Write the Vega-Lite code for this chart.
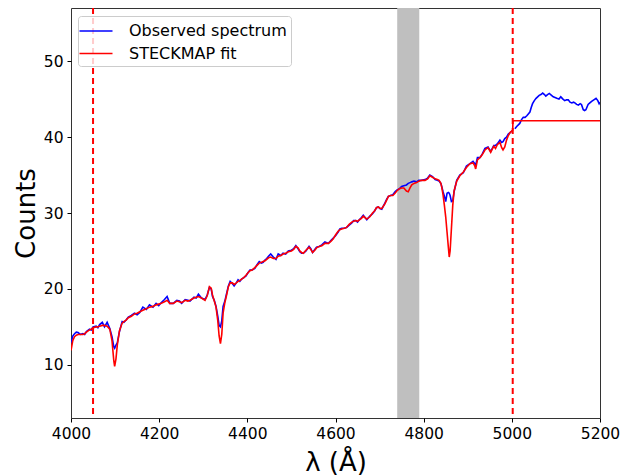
{
  "$schema": "https://vega.github.io/schema/vega-lite/v6.json",
  "width": 529,
  "height": 410,
  "autosize": {"type": "none"},
  "padding": {"left": 71, "top": 8, "right": 22, "bottom": 57},
  "config": {
    "font": "DejaVu Sans",
    "view": {"stroke": "#333", "strokeWidth": 1},
    "axis": {"grid": false, "domain": false, "tickColor": "#000", "labelColor": "#000", "titleColor": "#000", "tickSize": 4, "labelFontSize": 15.5, "titleFontSize": 26, "titleFontWeight": "normal", "labelFont": "DejaVu Sans", "titleFont": "DejaVu Sans", "format": "d"},
    "legend": {"labelFont": "DejaVu Sans"}
  },
  "data": {"values": [
    {"l":4000,"o":12.9,"f":11.9},{"l":4001,"o":13.1,"f":12.2},{"l":4004,"o":13.8,"f":13.2},{"l":4008,"o":14.1,"f":13.7},{"l":4012,"o":14.3,"f":13.9},{"l":4016,"o":14.25,"f":14.0},{"l":4021,"o":14.0,"f":14.0},{"l":4027,"o":14.1,"f":14.0},{"l":4031,"o":14.0,"f":14.1},{"l":4035,"o":14.4,"f":14.3},{"l":4042,"o":14.7,"f":14.6},{"l":4046,"o":14.6,"f":14.7},{"l":4050,"o":15.0,"f":14.9},{"l":4057,"o":15.1,"f":15.0},{"l":4061,"o":14.9,"f":15.0},{"l":4065,"o":15.3,"f":15.1},{"l":4071,"o":15.6,"f":15.2},{"l":4076,"o":15.0,"f":15.2},{"l":4082,"o":15.6,"f":15.1},{"l":4088,"o":14.8,"f":14.7},{"l":4093,"o":13.7,"f":13.2},{"l":4097,"o":12.4,"f":10.6},{"l":4099,"o":12.2,"f":9.8},{"l":4102,"o":12.6,"f":10.8},{"l":4105,"o":12.9,"f":12.6},{"l":4110,"o":14.4,"f":14.5},{"l":4116,"o":15.7,"f":15.5},{"l":4120,"o":15.6,"f":15.7},{"l":4125,"o":15.9,"f":15.9},{"l":4130,"o":16.3,"f":16.2},{"l":4137,"o":16.5,"f":16.4},{"l":4144,"o":16.8,"f":16.7},{"l":4150,"o":16.6,"f":16.8},{"l":4156,"o":16.9,"f":17.0},{"l":4163,"o":17.6,"f":17.2},{"l":4171,"o":17.3,"f":17.4},{"l":4178,"o":17.9,"f":17.6},{"l":4186,"o":17.6,"f":17.7},{"l":4193,"o":18.1,"f":17.9},{"l":4199,"o":17.8,"f":18.0},{"l":4205,"o":18.2,"f":18.1},{"l":4212,"o":18.6,"f":18.3},{"l":4218,"o":19.0,"f":18.5},{"l":4224,"o":18.1,"f":18.1},{"l":4232,"o":18.1,"f":18.1},{"l":4240,"o":18.5,"f":18.4},{"l":4246,"o":18.4,"f":18.3},{"l":4251,"o":18.1,"f":18.2},{"l":4259,"o":18.6,"f":18.5},{"l":4265,"o":18.5,"f":18.4},{"l":4270,"o":18.4,"f":18.5},{"l":4279,"o":18.9,"f":18.8},{"l":4284,"o":18.8,"f":18.9},{"l":4289,"o":19.3,"f":19.0},{"l":4296,"o":18.8,"f":18.8},{"l":4304,"o":18.6,"f":18.5},{"l":4309,"o":19.2,"f":19.1},{"l":4314,"o":20.2,"f":20.3},{"l":4318,"o":20.0,"f":20.1},{"l":4321,"o":19.0,"f":19.2},{"l":4325,"o":18.5,"f":18.4},{"l":4329,"o":17.7,"f":17.6},{"l":4333,"o":16.4,"f":15.8},{"l":4336,"o":15.2,"f":13.8},{"l":4339,"o":15.0,"f":12.8},{"l":4342,"o":15.8,"f":14.0},{"l":4345,"o":17.7,"f":16.8},{"l":4349,"o":18.4,"f":18.2},{"l":4353,"o":19.4,"f":19.2},{"l":4357,"o":20.4,"f":20.3},{"l":4361,"o":21.0,"f":20.8},{"l":4366,"o":20.7,"f":20.8},{"l":4370,"o":20.4,"f":20.6},{"l":4375,"o":20.8,"f":20.8},{"l":4379,"o":21.2,"f":21.0},{"l":4383,"o":21.0,"f":21.1},{"l":4387,"o":21.3,"f":21.3},{"l":4392,"o":21.5,"f":21.5},{"l":4397,"o":21.7,"f":21.8},{"l":4401,"o":22.1,"f":22.1},{"l":4406,"o":22.5,"f":22.4},{"l":4411,"o":22.5,"f":22.5},{"l":4417,"o":22.7,"f":22.8},{"l":4422,"o":23.2,"f":23.1},{"l":4427,"o":23.6,"f":23.4},{"l":4432,"o":23.4,"f":23.5},{"l":4436,"o":23.5,"f":23.6},{"l":4440,"o":23.8,"f":23.7},{"l":4444,"o":24.0,"f":23.9},{"l":4448,"o":24.3,"f":24.1},{"l":4453,"o":24.6,"f":24.2},{"l":4459,"o":24.2,"f":24.0},{"l":4465,"o":23.9,"f":24.0},{"l":4470,"o":24.6,"f":24.3},{"l":4476,"o":24.4,"f":24.4},{"l":4481,"o":24.7,"f":24.6},{"l":4487,"o":24.6,"f":24.7},{"l":4493,"o":25.0,"f":24.9},{"l":4500,"o":25.1,"f":25.0},{"l":4505,"o":25.3,"f":25.2},{"l":4510,"o":25.7,"f":25.6},{"l":4515,"o":25.3,"f":25.4},{"l":4519,"o":24.9,"f":25.0},{"l":4523,"o":24.7,"f":24.8},{"l":4527,"o":24.7,"f":24.7},{"l":4533,"o":25.0,"f":25.1},{"l":4540,"o":25.6,"f":25.5},{"l":4544,"o":25.3,"f":25.2},{"l":4548,"o":24.8,"f":24.8},{"l":4553,"o":25.2,"f":25.1},{"l":4557,"o":25.5,"f":25.4},{"l":4563,"o":25.6,"f":25.6},{"l":4569,"o":25.8,"f":25.7},{"l":4576,"o":26.2,"f":26.0},{"l":4580,"o":26.1,"f":26.0},{"l":4584,"o":26.0,"f":26.0},{"l":4590,"o":26.4,"f":26.3},{"l":4595,"o":26.7,"f":26.6},{"l":4600,"o":27.0,"f":27.1},{"l":4606,"o":27.5,"f":27.6},{"l":4610,"o":27.9,"f":27.8},{"l":4614,"o":28.0,"f":27.9},{"l":4620,"o":28.0,"f":28.0},{"l":4625,"o":28.1,"f":28.1},{"l":4631,"o":28.4,"f":28.5},{"l":4637,"o":28.7,"f":28.8},{"l":4641,"o":29.0,"f":28.9},{"l":4646,"o":29.0,"f":29.0},{"l":4650,"o":28.8,"f":28.9},{"l":4654,"o":29.1,"f":29.1},{"l":4659,"o":29.4,"f":29.3},{"l":4663,"o":29.7,"f":29.6},{"l":4667,"o":29.4,"f":29.4},{"l":4671,"o":29.1,"f":29.2},{"l":4678,"o":29.6,"f":29.5},{"l":4684,"o":29.9,"f":30.0},{"l":4689,"o":30.3,"f":30.3},{"l":4693,"o":30.7,"f":30.7},{"l":4697,"o":30.8,"f":30.8},{"l":4701,"o":30.6,"f":30.6},{"l":4705,"o":30.5,"f":30.6},{"l":4712,"o":31.3,"f":31.2},{"l":4716,"o":31.8,"f":31.7},{"l":4720,"o":32.2,"f":32.2},{"l":4725,"o":32.3,"f":32.3},{"l":4730,"o":32.4,"f":32.3},{"l":4735,"o":32.8,"f":32.6},{"l":4739,"o":33.0,"f":32.9},{"l":4745,"o":33.2,"f":33.2},{"l":4750,"o":33.5,"f":33.3},{"l":4755,"o":33.6,"f":33.3},{"l":4761,"o":33.7,"f":32.9},{"l":4765,"o":33.9,"f":32.8},{"l":4769,"o":34.0,"f":33.3},{"l":4773,"o":34.1,"f":33.7},{"l":4778,"o":34.2,"f":33.9},{"l":4784,"o":34.1,"f":34.0},{"l":4789,"o":34.3,"f":34.2},{"l":4795,"o":34.3,"f":34.3},{"l":4803,"o":34.4,"f":34.3},{"l":4809,"o":34.6,"f":34.5},{"l":4814,"o":35.0,"f":34.9},{"l":4820,"o":34.8,"f":34.7},{"l":4826,"o":34.4,"f":34.5},{"l":4831,"o":34.3,"f":34.4},{"l":4835,"o":34.2,"f":34.3},{"l":4839,"o":33.9,"f":33.9},{"l":4841,"o":33.5,"f":33.4},{"l":4844,"o":32.8,"f":32.4},{"l":4847,"o":32.2,"f":31.0},{"l":4850,"o":31.5,"f":29.5},{"l":4853,"o":32.6,"f":27.5},{"l":4856,"o":32.7,"f":25.5},{"l":4858,"o":32.6,"f":24.2},{"l":4860,"o":32.3,"f":25.0},{"l":4863,"o":31.5,"f":28.0},{"l":4866,"o":31.6,"f":31.0},{"l":4869,"o":32.8,"f":32.9},{"l":4875,"o":34.3,"f":34.2},{"l":4882,"o":35.0,"f":34.9},{"l":4890,"o":35.3,"f":35.4},{"l":4897,"o":36.2,"f":36.0},{"l":4905,"o":36.5,"f":36.5},{"l":4912,"o":36.8,"f":36.6},{"l":4916,"o":36.5,"f":36.2},{"l":4918,"o":36.3,"f":35.8},{"l":4922,"o":37.3,"f":37.0},{"l":4928,"o":37.3,"f":37.3},{"l":4933,"o":37.8,"f":37.7},{"l":4939,"o":38.5,"f":38.3},{"l":4946,"o":38.7,"f":38.6},{"l":4952,"o":38.1,"f":38.0},{"l":4959,"o":38.9,"f":38.8},{"l":4963,"o":38.9,"f":38.5},{"l":4967,"o":39.1,"f":39.0},{"l":4973,"o":39.6,"f":39.3},{"l":4977,"o":39.3,"f":38.6},{"l":4980,"o":39.4,"f":38.3},{"l":4984,"o":39.8,"f":38.7},{"l":4988,"o":40.0,"f":39.6},{"l":4992,"o":40.4,"f":40.2},{"l":4996,"o":40.6,"f":40.6},{"l":5002,"o":40.9,"f":40.9},{"l":5002.5,"f":42.15},{"l":5007,"o":41.1,"f":42.15},{"l":5011,"o":41.4,"f":42.15},{"l":5018,"o":41.8,"f":42.15},{"l":5022,"o":42.3,"f":42.15},{"l":5026,"o":42.6,"f":42.15},{"l":5030,"o":42.6,"f":42.15},{"l":5034,"o":42.8,"f":42.15},{"l":5041,"o":43.3,"f":42.15},{"l":5044,"o":43.9,"f":42.15},{"l":5047,"o":44.4,"f":42.15},{"l":5051,"o":44.8,"f":42.15},{"l":5055,"o":45.1,"f":42.15},{"l":5062,"o":45.5,"f":42.15},{"l":5066,"o":45.6,"f":42.15},{"l":5070,"o":45.8,"f":42.15},{"l":5074,"o":45.6,"f":42.15},{"l":5077,"o":45.4,"f":42.15},{"l":5081,"o":45.6,"f":42.15},{"l":5085,"o":45.75,"f":42.15},{"l":5090,"o":45.5,"f":42.15},{"l":5094,"o":45.3,"f":42.15},{"l":5098,"o":45.2,"f":42.15},{"l":5102,"o":45.1,"f":42.15},{"l":5107,"o":45.0,"f":42.15},{"l":5111,"o":45.3,"f":42.15},{"l":5116,"o":45.0,"f":42.15},{"l":5120,"o":44.8,"f":42.15},{"l":5124,"o":44.9,"f":42.15},{"l":5128,"o":44.9,"f":42.15},{"l":5132,"o":44.6,"f":42.15},{"l":5136,"o":44.5,"f":42.15},{"l":5140,"o":44.6,"f":42.15},{"l":5143,"o":44.5,"f":42.15},{"l":5147,"o":44.3,"f":42.15},{"l":5151,"o":44.2,"f":42.15},{"l":5155,"o":44.4,"f":42.15},{"l":5158,"o":44.3,"f":42.15},{"l":5162,"o":43.6,"f":42.15},{"l":5165,"o":43.5,"f":42.15},{"l":5168,"o":43.6,"f":42.15},{"l":5173,"o":44.3,"f":42.15},{"l":5177,"o":44.5,"f":42.15},{"l":5181,"o":44.7,"f":42.15},{"l":5186,"o":44.9,"f":42.15},{"l":5191,"o":45.1,"f":42.15},{"l":5195,"o":44.8,"f":42.15},{"l":5198,"o":44.4,"f":42.15},{"l":5200,"o":44.6,"f":42.15}
  ]},
  "layer": [
    {
      "data": {"values": [{"a": 4740, "b": 4790}]},
      "mark": {"type": "rect", "color": "#bfbfbf"},
      "encoding": {
        "x": {"field": "a", "type": "quantitative", "scale": {"domain": [4000, 5200], "nice": false, "zero": false}},
        "x2": {"field": "b"}
      }
    },
    {
      "mark": {"type": "line", "strokeWidth": 1.6, "clip": true},
      "encoding": {
        "x": {"field": "l", "type": "quantitative", "scale": {"domain": [4000, 5200], "nice": false, "zero": false},
          "axis": {"values": [4000, 4200, 4400, 4600, 4800, 5000, 5200], "title": "λ (Å)", "labelFlush": false, "labelOverlap": false, "labelPadding": 4, "titleY": 52, "titleBaseline": "alphabetic"}},
        "y": {"field": "o", "type": "quantitative", "scale": {"domain": [3, 57], "nice": false, "zero": false},
          "axis": {"values": [10, 20, 30, 40, 50], "title": "Counts", "labelPadding": 4, "titleX": -37, "titleY": 205, "titleAngle": -90, "titleAlign": "center", "titleBaseline": "alphabetic"}},
        "color": {"datum": "Observed spectrum", "type": "nominal",
          "scale": {"domain": ["Observed spectrum", "STECKMAP fit"], "range": ["#0000ff", "#ff0000"]},
          "legend": {"title": null, "orient": "none", "legendX": 7, "legendY": 8, "symbolType": "M-1.35,0H1.95", "symbolSize": 400, "symbolStrokeWidth": 1.6, "symbolFillColor": "transparent", "labelFontSize": 16, "labelOffset": 25, "labelColor": "#000", "strokeColor": "#cccccc", "fillColor": "rgba(255,255,255,0.8)", "cornerRadius": 3, "padding": 4, "rowPadding": 3.5}}
      }
    },
    {
      "mark": {"type": "line", "strokeWidth": 1.6, "clip": true},
      "encoding": {
        "x": {"field": "l", "type": "quantitative"},
        "y": {"field": "f", "type": "quantitative"},
        "color": {"datum": "STECKMAP fit", "type": "nominal"}
      }
    },
    {
      "data": {"values": [{"w": 4050}, {"w": 5002}]},
      "mark": {"type": "rule", "color": "#ff0000", "strokeWidth": 2, "strokeDash": [6, 4]},
      "encoding": {
        "x": {"field": "w", "type": "quantitative"}
      }
    }
  ]
}
